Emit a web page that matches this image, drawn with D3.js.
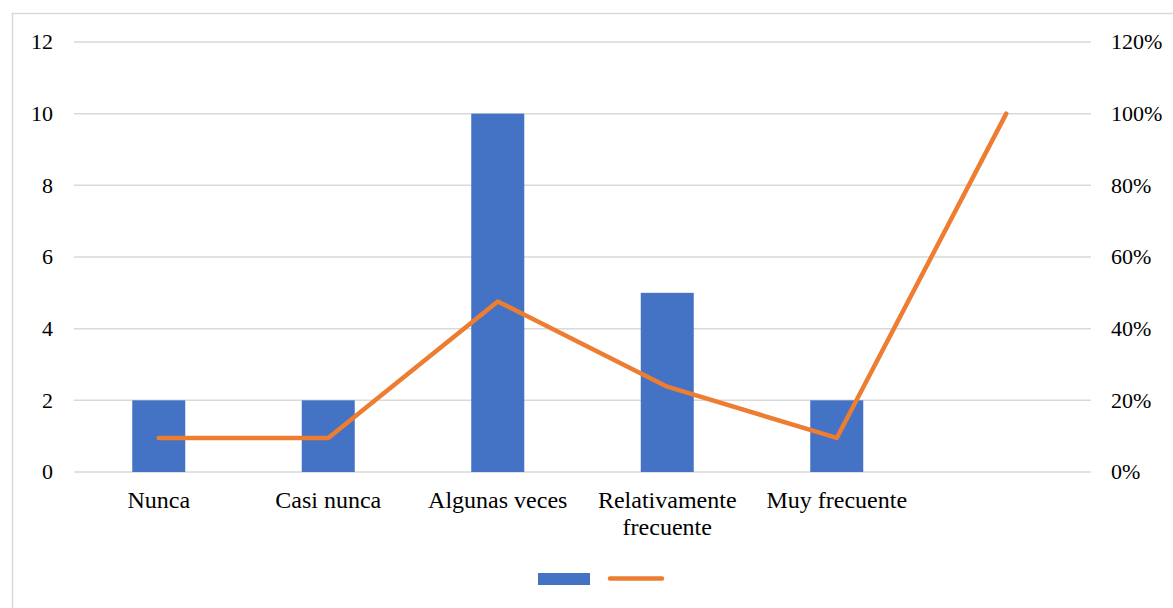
<!DOCTYPE html>
<html><head><meta charset="utf-8">
<script src="https://cdn.jsdelivr.net/npm/d3@7"></script>
<style>body{margin:0;background:#fff;}</style>
</head><body>
<script>
const categories = ["Nunca", "Casi nunca", "Algunas veces", "Relativamente\nfrecuente", "Muy frecuente", ""];
const barValues = [2, 2, 10, 5, 2, null];
const lineValues = [0.095, 0.095, 0.476, 0.238, 0.095, 1.0];
const leftTicks = [0, 2, 4, 6, 8, 10, 12];
const rightTicks = [0, 0.2, 0.4, 0.6, 0.8, 1.0, 1.2];

const FONT = '"Liberation Serif"';
const FS_AXIS = 22, FS_CAT = 24;
const W = 1173, H = 608;
const svg = d3.select("body").append("svg").attr("width", W).attr("height", H)
  .style("display", "block");
svg.append("rect").attr("x", 12.5).attr("y", 13.5).attr("width", 1180).attr("height", 620)
  .attr("fill", "#fff").attr("stroke", "#d9d9d9").attr("stroke-width", 1.5);

const x0 = 74, x1 = 1091, yTop = 42, yBot = 472;
const x = d3.scaleBand().domain(d3.range(categories.length)).range([x0, x1]);
const yL = d3.scaleLinear().domain([0, 12]).range([yBot, yTop]);
const yR = d3.scaleLinear().domain([0, 1.2]).range([yBot, yTop]);

// gridlines
svg.append("g").selectAll("line").data(leftTicks).join("line")
  .attr("x1", x0).attr("x2", x1).attr("y1", d => yL(d)).attr("y2", d => yL(d))
  .attr("stroke", "#d9d9d9").attr("stroke-width", 1.5);

// left axis labels
svg.append("g").selectAll("text").data(leftTicks).join("text")
  .attr("x", 53).attr("y", d => yL(d)).attr("dy", "0.34em").attr("text-anchor", "end")
  .style("font-family", FONT).style("font-size", FS_AXIS + "px").attr("fill", "#000").text(d => d);

// right axis labels
svg.append("g").selectAll("text").data(rightTicks).join("text")
  .attr("x", 1111).attr("y", d => yR(d)).attr("dy", "0.34em").attr("text-anchor", "start")
  .style("font-family", FONT).style("font-size", FS_AXIS + "px").attr("fill", "#000").text(d => d3.format(".0%")(d));

// bars
const bw = 53;
svg.append("g").selectAll("rect").data(barValues.map((v, i) => ({v, i})).filter(d => d.v != null)).join("rect")
  .attr("x", d => x(d.i) + x.bandwidth() / 2 - bw / 2).attr("width", bw)
  .attr("y", d => yL(d.v)).attr("height", d => yL(0) - yL(d.v)).attr("fill", "#4472C4");

// line
const line = d3.line().x((d, i) => x(i) + x.bandwidth() / 2).y(d => yR(d));
svg.append("path").datum(lineValues).attr("d", line).attr("fill", "none")
  .attr("stroke", "#ED7D31").attr("stroke-width", 4.5).attr("stroke-linecap", "round").attr("stroke-linejoin", "round");

// category labels
const cl = svg.append("g").selectAll("text").data(categories).join("text")
  .attr("x", (d, i) => x(i) + x.bandwidth() / 2).attr("y", 508).attr("text-anchor", "middle")
  .style("font-family", FONT).style("font-size", FS_CAT + "px").attr("fill", "#000");
cl.each(function(d, i) {
  const lines = d.split("\n");
  d3.select(this).selectAll("tspan").data(lines).join("tspan")
    .attr("x", x(i) + x.bandwidth() / 2).attr("dy", (l, j) => j === 0 ? 0 : 27).text(l => l);
});

// legend
svg.append("rect").attr("x", 538).attr("y", 573).attr("width", 52).attr("height", 12).attr("fill", "#4472C4");
svg.append("line").attr("x1", 610).attr("x2", 662).attr("y1", 578.5).attr("y2", 578.5)
  .attr("stroke", "#ED7D31").attr("stroke-width", 4.5).attr("stroke-linecap", "round");
</script>
</body></html>
